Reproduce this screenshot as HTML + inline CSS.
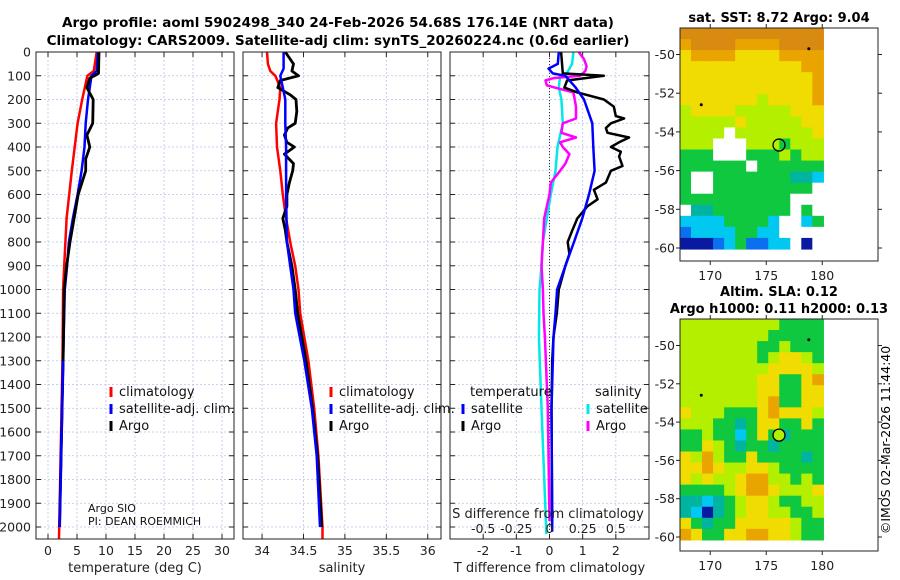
<!DOCTYPE html>
<html><head><meta charset="utf-8"><style>
html,body{margin:0;padding:0;background:#fff;}
svg{display:block;font-family:"DejaVu Sans","Liberation Sans",sans-serif;}
</style></head><body>
<svg id="fig" width="900" height="580" viewBox="0 0 900 580" xmlns="http://www.w3.org/2000/svg">
<text x="338" y="27" text-anchor="middle" font-size="13.5" font-weight="bold">Argo profile: aoml 5902498_340 24-Feb-2026 54.68S 176.14E (NRT data)</text>
<text x="338" y="45" text-anchor="middle" font-size="13.5" font-weight="bold">Climatology: CARS2009. Satellite-adj clim: synTS_20260224.nc (0.6d earlier)</text>
<text x="779" y="22" text-anchor="middle" font-size="13" font-weight="bold">sat. SST: 8.72 Argo: 9.04</text>
<text x="779" y="296" text-anchor="middle" font-size="13" font-weight="bold">Altim. SLA: 0.12</text>
<text x="779" y="313" text-anchor="middle" font-size="13" font-weight="bold">Argo h1000: 0.11 h2000: 0.13</text>
<text x="0" y="0" transform="translate(890,440) rotate(-90)" text-anchor="middle" font-size="12.5">©IMOS 02-Mar-2026 11:44:40</text>
</svg>
<script>
// ---- profile data (depth in m) ----
const tClimDepth=[0,80,100,200,300,500,700,900,1000,1300,2050];
const tClimVal=[8.4,7.9,6.8,5.9,5.1,4.1,3.2,2.8,2.6,2.5,1.9];
const tSatDepth=[0,80,100,200,300,400,500,600,700,800,900,1000,1300,2000];
const tSatVal=[8.6,8.4,7.5,6.9,6.5,6.3,5.8,5.1,4.3,3.6,3.3,2.9,2.6,2.0];
const tArgoDepth=[0,90,100,110,150,200,300,350,400,450,500,600,700,800,900,1000,1300,2000];
const tArgoVal=[8.8,8.7,8.0,7.2,6.7,7.8,7.7,6.7,7.2,6.5,6.5,5.2,4.5,3.8,3.2,2.8,2.6,2.0];
const sClimDepth=[0,50,80,100,150,200,300,400,500,600,700,800,900,1000,1100,1300,1500,1700,2000,2050];
const sClimVal=[34.06,34.07,34.10,34.16,34.22,34.21,34.17,34.18,34.22,34.25,34.29,34.34,34.40,34.44,34.46,34.56,34.63,34.68,34.73,34.73];
const sSatDepth=[0,70,100,150,200,300,400,600,800,900,1000,1100,1300,1500,1700,2000];
const sSatVal=[34.26,34.26,34.22,34.25,34.28,34.28,34.29,34.29,34.30,34.34,34.38,34.40,34.51,34.60,34.66,34.70];
const sArgoDepth=[0,50,80,100,120,150,180,200,250,300,320,350,380,400,430,470,500,550,600,650,700,750,800,900,1000,1100,1200,1300,1500,1700,2000];
const sArgoVal=[34.28,34.38,34.36,34.44,34.22,34.19,34.34,34.41,34.42,34.40,34.31,34.27,34.30,34.39,34.27,34.38,34.37,34.33,34.30,34.30,34.25,34.28,34.30,34.36,34.40,34.43,34.48,34.53,34.61,34.67,34.72];
const dTSatDepth=[0,50,70,90,100,150,200,300,400,500,600,700,800,900,1000,1100,1200,1500,2020];
const dTSatVal=[0.28,0.25,-0.03,0.1,0.48,0.79,1.04,1.29,1.32,1.36,1.19,0.99,0.74,0.48,0.23,0.18,0.12,0.06,0.08];
const dTArgoDepth=[0,90,100,120,150,170,200,230,270,280,300,320,340,360,380,400,420,440,480,500,550,580,620,650,700,750,800,850,900,1000,1100,1200,1300,1500,2000];
const dTArgoVal=[0.35,0.4,1.64,0.53,0.45,0.84,1.64,1.94,2.0,2.25,1.85,1.7,1.75,2.4,2.1,1.85,2.15,2.1,2.2,1.85,1.7,1.34,1.45,1.14,0.84,0.69,0.55,0.6,0.48,0.28,0.22,0.12,0.08,0.06,0.08];
const dSSatDepth=[0,50,90,100,150,200,300,400,500,600,700,800,900,1000,1200,1500,2030];
const dSSatVal=[0.18,0.17,0.13,0.08,0.07,0.09,0.1,0.06,0.045,0.01,-0.02,-0.05,-0.06,-0.075,-0.08,-0.06,-0.023];
const dSArgoDepth=[0,30,60,80,100,110,120,140,150,170,200,230,280,300,340,360,380,400,430,470,500,550,600,650,700,800,900,1000,1100,1200,1500,1975];
const dSArgoVal=[0.22,0.26,0.28,0.27,0.23,0.03,-0.03,-0.02,0.04,0.18,0.19,0.2,0.2,0.1,0.09,0.2,0.08,0.1,0.15,0.12,0.08,0.01,0.0,-0.02,-0.04,-0.05,-0.06,-0.05,-0.045,-0.035,-0.013,0.0];
// tick labels
const depthTicks=[0,100,200,300,400,500,600,700,800,900,1000,1100,1200,1300,1400,1500,1600,1700,1800,1900,2000];
const tempTicks=[0,5,10,15,20,25,30];
const salTicks=[34,34.5,35,35.5,36];
const salTickLabels=["34","34.5","35","35.5","36"];
const dTTicks=[-2,-1,0,1,2];
const dSTicks=[-0.5,-0.25,0,0.25,0.5];
const dSTickLabels=["-0.5","-0.25","0","0.25","0.5"];
const latTicks=[-50,-52,-54,-56,-58,-60];
const lonTicks=[170,175,180];
// map grids (13 cols x 20 rows), codes -> colours
const sstGrid=[
"DDDDDDDDDDDDD","ODDDDOOOODDDD","YOOOOYYYYOOOO","YYYYYYYYYYYOO","YYYYYYYYYYYYO",
"YYYYYYYYYYYYO","YYYYYYYLYYYYO","LYYYYLLLLLYYY","LLLLLYLLLLLYY","LLLLWLLLLLLLY",
"LLLWWWLLLGLLL","GGGWWWGGGLGLL","GGGGGGWGGGGGG","GWWGGGGGGGTTC","GWWGGGGGGGGGW",
"GGGGGGGGGGWWW","WTTGGGGGGGWGW","CCCCGGGGCWWCG","BCCCCGGCCWWWW","NNNBCGBBCCWNW"];
const slaGrid=[
"LLLLLLLLLGGGG","LLLLLLLLGGGGG","LLLLLLLGGLGGG","LLLLLLLGLYYLG","LLLLLLLLYYYYL",
"LLLLLLLYYGGYO","LLLLLLLYYGGYY","LLLLLLLYOGGYY","YLLLGGGYOYYYL","LLLGGTGYYGGYG",
"GGLGGCGYGTGGG","GGYLGTGGTGGGG","YLOLGGYGGGGTG","YYOYLLYYLGGGG","YLYLLYOOLLGLG",
"GGGGLYOOYLLLY","TTCTGLYYLGGLL","TCNTGLYYLLGGL","YGTGGYYYYYLGG","OYGGYYOOYYLGG"];
const argoLon=176.14, argoLat=-54.68;

const NS="http://www.w3.org/2000/svg";
const svg=document.getElementById('fig');
function mk(tag,attrs,parent){const e=document.createElementNS(NS,tag);for(const k in attrs)e.setAttribute(k,attrs[k]);(parent||svg).appendChild(e);return e;}
const Y0=52, DS=0.2375;
const yD=d=>Y0+d*DS;
const panels=[
 {x0:36,x1:234,xmin:-2.07,xmax:32.07,name:'temperature-panel'},
 {x0:243,x1:441,xmin:33.77,xmax:36.16,name:'salinity-panel'},
 {x0:450,x1:649,xmin:-3,xmax:3,name:'difference-panel'}];
const Yb=539;
function xs(p,v){return p.x0+(v-p.xmin)/(p.xmax-p.xmin)*(p.x1-p.x0);}
function drawAxes(p,ticks,labels,title){
 const g=mk('g',{});
 
 
 ticks.forEach(t=>{const x=xs(p,t);mk('line',{x1:x,x2:x,y1:Y0,y2:Yb,stroke:'#b8c4e8','stroke-width':0.8,'stroke-dasharray':'2,2'},g);});
 depthTicks.forEach(d=>{const y=yD(d);mk('line',{x1:p.x0,x2:p.x1,y1:y,y2:y,stroke:'#b8c4e8','stroke-width':0.8,'stroke-dasharray':'2,2'},g);
  mk('line',{x1:p.x0,x2:p.x0+5,y1:y,y2:y,stroke:'#222'},g);mk('line',{x1:p.x1-5,x2:p.x1,y1:y,y2:y,stroke:'#222'},g);});
 ticks.forEach((t,i)=>{const x=xs(p,t);mk('line',{x1:x,x2:x,y1:Yb,y2:Yb-5,stroke:'#222'},g);mk('line',{x1:x,x2:x,y1:Y0,y2:Y0+5,stroke:'#222'},g);
  const tx=mk('text',{x:x,y:555,'text-anchor':'middle','font-size':12.5,fill:'#222'},g);tx.textContent=labels[i];
  
  });
 const tt=mk('text',{x:(p.x0+p.x1)/2,y:572,'text-anchor':'middle','font-size':13,fill:'#222'},g);tt.textContent=title;
 
 
 return g;
}
function series(p,depths,vals,color,w,nm,scale){
 const pts=depths.map((d,i)=>xs(p,vals[i]*(scale||1)).toFixed(1)+','+yD(d).toFixed(1)).join(' ');
 const pl=mk('polyline',{points:pts,fill:'none',stroke:color,'stroke-width':w,'stroke-linejoin':'round'});
 
 
}
drawAxes(panels[0],tempTicks,tempTicks.map(String),'temperature (deg C)');
drawAxes(panels[1],salTicks,salTickLabels,'salinity');
drawAxes(panels[2],dTTicks,dTTicks.map(String),'T difference from climatology');
// depth labels
depthTicks.forEach(d=>{const t=mk('text',{x:31,y:yD(d)+4.5,'text-anchor':'end','font-size':12.5,fill:'#222'});t.textContent=String(d);
 
 });
// zero line in diff panel
{const x=xs(panels[2],0);const z=mk('line',{x1:x,x2:x,y1:Y0,y2:Yb,stroke:'#333','stroke-width':1,'stroke-dasharray':'1,2'});
 
 }
// series
series(panels[0],tClimDepth,tClimVal,'#f00',2.5,'temp-climatology-line');
series(panels[0],tSatDepth,tSatVal,'#00f',2.5,'temp-satellite-line');
series(panels[0],tArgoDepth,tArgoVal,'#000',2.8,'temp-argo-line');
series(panels[0],tSatDepth.filter(d=>d>=1300),tSatVal.slice(tSatDepth.indexOf(1300)),'#00f',2.5,'temp-satellite-deep-line');
series(panels[1],sClimDepth,sClimVal,'#f00',2.5,'sal-climatology-line');
series(panels[1],sArgoDepth,sArgoVal,'#000',2.8,'sal-argo-line');
series(panels[1],sSatDepth,sSatVal,'#00f',2.5,'sal-satellite-line');
series(panels[2],dSSatDepth,dSSatVal,'#00e8e8',2.5,'sdiff-satellite-line',4);
series(panels[2],dSArgoDepth,dSArgoVal,'#f0f',2.5,'sdiff-argo-line',4);
series(panels[2],dTArgoDepth,dTArgoVal,'#000',2.5,'tdiff-argo-line');
series(panels[2],dTSatDepth,dTSatVal,'#00f',2.5,'tdiff-satellite-line');
// S ticks on diff panel
{const t=mk('text',{x:548,y:518,'text-anchor':'middle','font-size':13,fill:'#222'});t.textContent='S difference from climatology';
 
 }
dSTicks.forEach((v,i)=>{const t=mk('text',{x:xs(panels[2],v*4),y:533,'text-anchor':'middle','font-size':12.5,fill:'#222'});t.textContent=dSTickLabels[i];
 
 });
// frames
panels.forEach(p=>{const r=mk('rect',{x:p.x0,y:Y0,width:p.x1-p.x0,height:Yb-Y0,fill:'none',stroke:'#222','stroke-width':1});
 
 });
// legends
function legend(x,y,color,label,nm){const g=mk('g',{});
 
 
 mk('line',{x1:x,x2:x,y1:y-9,y2:y+1,stroke:color,'stroke-width':3},g);
 const t=mk('text',{x:x+8,y:y,'font-size':13,fill:'#111'},g);t.textContent=label;}
legend(111,396,'#f00','climatology','legend-climatology');
legend(111,413,'#00f','satellite-adj. clim.','legend-satellite-adj');
legend(111,430,'#000','Argo','legend-argo');
legend(331,396,'#f00','climatology','legend-sal-climatology');
legend(331,413,'#00f','satellite-adj. clim.','legend-sal-satellite-adj');
legend(331,430,'#000','Argo','legend-sal-argo');
{const t=mk('text',{x:470,y:396,'font-size':13,fill:'#111'});t.textContent='temperature';
 
 
 const s=mk('text',{x:595,y:396,'font-size':13,fill:'#111'});s.textContent='salinity';
 
 }
legend(463,413,'#00f','satellite','legend-tdiff-satellite');
legend(463,430,'#000','Argo','legend-tdiff-argo');
legend(588,413,'#00e8e8','satellite','legend-sdiff-satellite');
legend(588,430,'#f0f','Argo','legend-sdiff-argo');
{const a=mk('text',{x:88,y:512,'font-size':11,fill:'#111'});a.textContent='Argo SIO';
 
 
 const b=mk('text',{x:88,y:525,'font-size':11,fill:'#111'});b.textContent='PI: DEAN ROEMMICH';
 
 }
// ---- maps ----
const colors={D:'#d98a10',O:'#e9a400',Y:'#f0dc00',L:'#b4ef00',G:'#10c840',T:'#00b4a0',C:'#00c8f0',B:'#0a70f0',N:'#0a1aa0',W:'#ffffff'};
function drawMap(top,bottom,imgBottomLat,lat60y,grid,nm){
 const ax0=680,ax1=878;
 const lonX=l=>ax0+(l-167.3)*11.2;
 const latY=l=>lat60y-(l+60)*(-1)*0-(l-(-60))*((lat60y-(top+26.5))/10);
 const g=mk('g',{});
 
 
 const imgX0=ax0, imgX1=lonX(180.1), imgY0=top, imgY1=latY(imgBottomLat);
 const cw=(imgX1-imgX0)/13, ch=(imgY1-imgY0)/20;
 grid.forEach((row,r)=>{for(let c=0;c<13;c++){const cell=mk('rect',{x:(imgX0+c*cw).toFixed(2),y:(imgY0+r*ch).toFixed(2),width:(cw+0.6).toFixed(2),height:(ch+0.6).toFixed(2),fill:colors[row[c]]},g);
  
  }});
 mk('rect',{x:ax0,y:top,width:ax1-ax0,height:bottom-top,fill:'none',stroke:'#222'},g);
 latTicks.forEach(l=>{const y=latY(l);mk('line',{x1:ax1,x2:ax1+4,y1:y,y2:y,stroke:'#222'},g);mk('line',{x1:ax0,x2:ax0-4,y1:y,y2:y,stroke:'#222'},g);
  const t=mk('text',{x:ax0-5,y:y+4.5,'text-anchor':'end','font-size':12.5,fill:'#222'},g);t.textContent=String(l);
  
  });
 lonTicks.forEach(l=>{const x=lonX(l);mk('line',{x1:x,x2:x,y1:bottom,y2:bottom+4,stroke:'#222'},g);mk('line',{x1:x,x2:x,y1:top,y2:top-4,stroke:'#222'},g);
  const t=mk('text',{x:x,y:bottom+19,'text-anchor':'middle','font-size':12.5,fill:'#222'},g);t.textContent=String(l);
  
  });
 mk('circle',{cx:lonX(169.2),cy:latY(-52.6),r:1.5,fill:'#000'},g);
 mk('circle',{cx:lonX(178.8),cy:latY(-49.7),r:1.5,fill:'#000'},g);
 const c=mk('circle',{cx:lonX(argoLon),cy:latY(argoLat),r:6,fill:nm==='sla-map'?'#b4ef00':'none',stroke:'#000','stroke-width':1.3},g);
 
 
}
drawMap(28,261,-60.05,248,sstGrid,'sst-map');
drawMap(319,551,-60.15,537,slaGrid,'sla-map');
</script>
</body></html>
